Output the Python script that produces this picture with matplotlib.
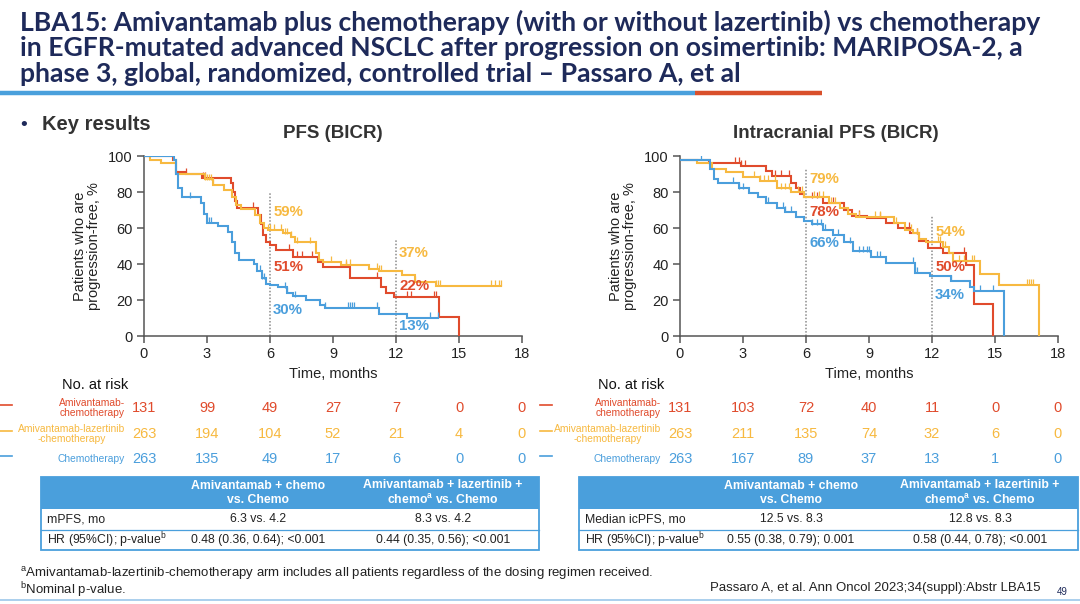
import matplotlib
matplotlib.use("Agg")
import matplotlib.pyplot as plt
import matplotlib.transforms as mtransforms
from matplotlib.patches import Rectangle
from matplotlib import font_manager
import numpy as np

# fonts: Arial-like text, narrowest available bold for the slide title
fonts = font_manager.fontManager.ttflist
names = {f.name for f in fonts}
BASE = "Liberation Sans" if "Liberation Sans" in names else "DejaVu Sans"
plt.rcParams["font.family"] = [BASE, "DejaVu Sans"]

RED = "#e04b2c"
YEL = "#f7b940"
BLU = "#4a9edc"
NAVY = "#1e2a5a"
GREY = "#333333"

# ---- PFS (BICR) Kaplan-Meier steps: time (months) -> % progression-free
pfs_red_t = [0, 1.4, 1.5, 2.0, 2.75, 4.15, 4.25, 4.35, 4.45, 5.45, 5.55, 5.65, 5.8, 6.0, 6.3,
             7.1, 8.3, 8.5, 9.8, 11.3, 11.5, 11.9, 14.05, 15.0]
pfs_red_s = [100, 98, 91, 90, 88, 85, 80, 75, 71, 67, 62, 56, 52, 50.5, 48,
             44, 41, 38.5, 32.5, 27.5, 24, 21.5, 10.5, 0]
pfs_red_cens = [2.0, 2.8, 2.9, 5.2, 6.9, 7.3, 7.5, 8.0, 9.6, 11.1, 12.5, 12.7, 13.8, 13.9]

pfs_yel_t = [0, 0.3, 0.8, 1.5, 2.9, 3.3, 3.8, 4.2, 4.4, 4.6, 5.3, 5.5, 5.7, 5.9, 6.6, 7.0, 7.2,
             8.2, 8.35, 8.5, 9.4, 10.7, 11.2, 12.3, 12.9, 13.9]
pfs_yel_s = [100, 98, 96, 90, 87, 84, 81, 77, 73, 70.5, 67, 63, 60, 59, 57, 55, 52,
             46, 42, 41, 39.5, 37.5, 36, 34, 30, 28]
pfs_yel_end = 17.0
pfs_yel_cens = [2.9, 3.0, 3.1, 3.2, 3.3, 5.9, 6.0, 6.2, 6.5, 6.7, 6.8, 7.0, 7.3, 7.9, 8.9, 9.6,
                9.8, 11.1, 11.2, 11.3, 12.9, 13.9, 14.0, 14.1, 16.5, 16.7, 16.9, 17.0]

pfs_blu_t = [0, 1.45, 1.5, 1.6, 1.8, 2.7, 2.85, 3.0, 3.5, 4.0, 4.2, 4.35, 4.5, 5.25, 5.4, 5.6,
             5.8, 6.0, 6.4, 6.8, 7.1, 7.7, 8.4, 8.6, 11.2, 12.5]
pfs_blu_s = [100, 98, 90, 82, 77, 74, 68, 63, 61, 58, 52, 46, 42, 40, 36, 32,
             29, 28.5, 27, 24, 22, 20, 17, 15.4, 12.5, 10]
pfs_blu_end = 14.0
pfs_blu_cens = [2.2, 3.0, 3.1, 3.2, 5.5, 5.6, 5.7, 6.7, 6.8, 7.2, 8.6, 9.7, 9.8, 9.9, 10.0,
                11.1, 13.6, 14.0]

# ---- Intracranial PFS (BICR)
ic_red_t = [0, 1.4, 2.9, 4.1, 4.4, 5.3, 5.5, 5.7, 5.9, 6.8, 7.8, 8.2, 8.9, 9.8, 10.4, 10.95,
            11.4, 11.8, 12.5, 13.6, 14.0, 14.9]
ic_red_s = [98, 96, 94.5, 91.5, 89, 85, 82, 79, 77, 74, 70, 66.5, 65.5, 63, 60, 57,
            53, 49, 46, 39.5, 18, 0]
ic_red_cens = [2.6, 2.8, 2.9, 3.1, 4.5, 4.8, 5.2, 6.3, 6.5, 7.3, 8.5, 9.5, 10.9, 11.3, 12.4,
               13.5, 13.6]

ic_yel_t = [0, 0.8, 1.5, 2.2, 3.0, 3.8, 4.6, 5.3, 5.9, 7.1, 7.6, 8.0, 8.4, 10.2, 10.7, 11.1,
            11.4, 11.7, 12.5, 12.8, 13.0, 14.3, 15.2, 17.1]
ic_yel_s = [98, 96, 93, 91, 88.5, 86, 82, 80, 77.5, 74, 71, 68, 66, 63, 59, 57,
            54, 52.5, 49.5, 46, 41.5, 34.5, 28.5, 0]
ic_yel_cens = [3.5, 3.8, 4.0, 4.2, 4.5, 4.8, 5.0, 5.2, 5.6, 5.8, 6.4, 6.6, 6.8, 7.2, 7.4, 8.0,
               8.5, 9.3, 9.5, 10.3, 11.0, 11.3, 12.3, 12.4, 12.6, 13.3, 13.5, 13.9, 14.0,
               16.5, 16.6, 16.7, 16.8]

ic_blu_t = [0, 1.45, 1.6, 1.8, 2.8, 3.3, 3.7, 4.1, 4.6, 5.0, 5.5, 5.9, 6.3, 6.8, 7.3, 7.8,
            8.25, 9.1, 9.8, 11.2, 11.9, 12.9, 13.8, 14.0, 15.45]
ic_blu_s = [98, 93, 87, 85, 82, 79.5, 77, 74, 71, 69, 66, 64, 62, 59, 56, 52,
            47, 44, 40.5, 35, 33.5, 30.5, 27, 25, 0]
ic_blu_cens = [1.0, 2.5, 2.8, 3.0, 4.2, 4.9, 5.0, 5.3, 6.3, 6.5, 6.7, 6.9, 7.5, 8.1, 8.5, 8.7,
               8.9, 9.0, 9.4, 9.5, 11.1, 11.2, 11.3, 12.9, 14.3, 14.9]

# landmark labels (month, text, colour) and their heights in %
pfs_marks = [(6, "59%", YEL), (6, "51%", RED), (6, "30%", BLU),
             (12, "37%", YEL), (12, "22%", RED), (12, "13%", BLU)]
pfs_mark_y = [69, 38.5, 14.5, 46, 28, 5.5]
ic_marks = [(6, "79%", YEL), (6, "78%", RED), (6, "66%", BLU),
            (12, "54%", YEL), (12, "50%", RED), (12, "34%", BLU)]
ic_mark_y = [87, 69, 51.5, 57.5, 38.5, 23]

# numbers at risk
risk_months = [0, 3, 6, 9, 12, 15, 18]
pfs_risk_red = [131, 99, 49, 27, 7, 0, 0]
pfs_risk_yel = [263, 194, 104, 52, 21, 4, 0]
pfs_risk_blu = [263, 135, 49, 17, 6, 0, 0]
ic_risk_red = [131, 103, 72, 40, 11, 0, 0]
ic_risk_yel = [263, 211, 135, 74, 32, 6, 0]
ic_risk_blu = [263, 167, 89, 37, 13, 1, 0]
arm_labels = ["Amivantamab-\nchemotherapy", "Amivantamab-lazertinib\n-chemotherapy", "Chemotherapy"]

# summary tables
pfs_tab_rows = ["mPFS, mo", "HR (95%CI); p-value$^{\\mathregular{b}}$"]
pfs_tab_c1 = ["6.3 vs. 4.2", "0.48 (0.36, 0.64); <0.001"]
pfs_tab_c2 = ["8.3 vs. 4.2", "0.44 (0.35, 0.56); <0.001"]
ic_tab_rows = ["Median icPFS, mo", "HR (95%CI); p-value$^{\\mathregular{b}}$"]
ic_tab_c1 = ["12.5 vs. 8.3", "0.55 (0.38, 0.79); 0.001"]
ic_tab_c2 = ["12.8 vs. 8.3", "0.58 (0.44, 0.78); <0.001"]
tab_head = ["Amivantamab + chemo\nvs. Chemo",
            "Amivantamab + lazertinib +\nchemo$^{\\mathregular{a}}$ vs. Chemo"]

title_lines = ["LBA15: Amivantamab plus chemotherapy (with or without lazertinib) vs chemotherapy",
               "in EGFR-mutated advanced NSCLC after progression on osimertinib: MARIPOSA-2, a",
               "phase 3, global, randomized, controlled trial \u2013 Passaro A, et al"]

W, H = 1080, 604
fig = plt.figure(figsize=(W / 100, H / 100), dpi=100)


def fx(x):
    return x / W


def fy(y):
    return 1 - y / H


def km(ax, t, s, color, cens, end=None):
    t = list(t)
    s = list(s)
    if end is not None:
        t.append(end)
        s.append(s[-1])
    ax.step(t, s, where="post", color=color, lw=1.5, solid_joinstyle="miter", zorder=3)
    idx = np.searchsorted(np.array(t), np.array(cens), side="right") - 1
    cy = np.array(s)[idx] + 1.6
    ax.plot(cens, cy, ls="none", marker="|", ms=5, mew=0.9, color=color, zorder=3)


def km_panel(left_px, title, title_x, curves, marks, mark_y, lm_tops):
    ax = fig.add_axes([fx(left_px), fy(336), fx(378), 180 / H])
    for c in curves:
        km(ax, *c)
    for m, top in zip([6, 12], lm_tops):
        ax.plot([m, m], [0, top], ls=(0, (1, 1.2)), color="#8a8a8a", lw=1.1, zorder=2)
    for (m, txt, col), yv in zip(marks, mark_y):
        ax.text(m + 0.15, yv, txt, color=col, fontsize=10.8, fontweight="bold", va="center")
    ax.set_xlim(0, 18)
    ax.set_ylim(0, 100)
    ax.set_xticks(range(0, 19, 3))
    ax.set_yticks(range(0, 101, 20))
    for sp in ["top", "right"]:
        ax.spines[sp].set_visible(False)
    for sp in ["left", "bottom"]:
        ax.spines[sp].set_color("#555555")
        ax.spines[sp].set_linewidth(1.1)
    ax.tick_params(colors="#555555", labelcolor="#222222", labelsize=10.5, length=5, width=1.1, pad=3)
    ax.set_xlabel("Time, months", fontsize=10.5, color="#222222", labelpad=4)
    ax.set_ylabel("Patients who are\nprogression-free, %", fontsize=10.5, color="#222222",
                  labelpad=5, linespacing=1.05)
    fig.text(fx(title_x), fy(133), title, fontsize=13.5, fontweight="bold", color=GREY,
             ha="center", va="center")
    ax.patch.set_alpha(0)
    return ax


ax1 = km_panel(144, "PFS (BICR)", 333,
               [(pfs_red_t, pfs_red_s, RED, pfs_red_cens),
                (pfs_yel_t, pfs_yel_s, YEL, pfs_yel_cens, pfs_yel_end),
                (pfs_blu_t, pfs_blu_s, BLU, pfs_blu_cens, pfs_blu_end)],
               pfs_marks, pfs_mark_y, [80, 54])
ax2 = km_panel(680, "Intracranial PFS (BICR)", 836,
               [(ic_red_t, ic_red_s, RED, ic_red_cens),
                (ic_yel_t, ic_yel_s, YEL, ic_yel_cens),
                (ic_blu_t, ic_blu_s, BLU, ic_blu_cens)],
               ic_marks, ic_mark_y, [93, 67])


def risk_table(ax, x_label_px, x_dash, rows):
    tr = mtransforms.blended_transform_factory(ax.transData, fig.transFigure)
    fig.text(fx(x_label_px - 30), fy(385), "No. at risk", fontsize=10.5, color="#111111",
             ha="center", va="center")
    for (vals, col, lab), ypx in zip(rows, [408, 434, 459]):
        for m, v in zip(risk_months, vals):
            ax.text(m, fy(ypx), str(v), transform=tr, color=col, fontsize=10.5,
                    ha="center", va="center", clip_on=False)
        fig.text(fx(x_label_px), fy(ypx), lab, color=col, fontsize=7.4, ha="right",
                 va="center", linespacing=1.0, multialignment="center")
        fig.add_artist(plt.Line2D([fx(x_dash), fx(x_dash + 12)], [fy(ypx - 3), fy(ypx - 3)],
                                  color=col, lw=1.2))


risk_table(ax1, 125, 0, [(pfs_risk_red, RED, arm_labels[0]),
                         (pfs_risk_yel, YEL, arm_labels[1]),
                         (pfs_risk_blu, BLU, arm_labels[2])])
risk_table(ax2, 661, 540, [(ic_risk_red, RED, arm_labels[0]),
                           (ic_risk_yel, YEL, arm_labels[1]),
                           (ic_risk_blu, BLU, arm_labels[2])])


def summary_table(x0, x1, col_x, rows, c1, c2):
    top, hb, r1, r2 = 477, 509, 530, 550
    fig.add_artist(Rectangle((fx(x0), fy(hb)), fx(x1 - x0), (hb - top) / H,
                             facecolor="#4a9fdc", edgecolor="none"))
    fig.add_artist(Rectangle((fx(x0), fy(r2)), fx(x1 - x0), (r2 - top) / H,
                             facecolor="none", edgecolor="#4a9fdc", lw=1.3))
    fig.add_artist(plt.Line2D([fx(x0), fx(x1)], [fy(r1), fy(r1)], color="#4a9fdc", lw=0.9))
    for cx, txt in zip(col_x, tab_head):
        fig.text(fx(cx), fy((top + hb) / 2), txt, color="white", fontsize=8.8,
                 fontweight="bold", ha="center", va="center", linespacing=1.15)
    for ypx, lab, a, b in zip([(hb + r1) / 2, (r1 + r2) / 2], rows, c1, c2):
        fig.text(fx(x0 + 6), fy(ypx), lab, fontsize=8.8, color="#222222", va="center")
        fig.text(fx(col_x[0]), fy(ypx), a, fontsize=8.8, color="#222222", va="center", ha="center")
        fig.text(fx(col_x[1]), fy(ypx), b, fontsize=8.8, color="#222222", va="center", ha="center")


summary_table(41, 539, [258, 443], pfs_tab_rows, pfs_tab_c1, pfs_tab_c2)
summary_table(579, 1078, [791, 980], ic_tab_rows, ic_tab_c1, ic_tab_c2)

# slide title: try a few installed bold faces, keep the narrowest one, fit to slide width
cands = []
for fam, stretch in [("Liberation Sans Narrow", "normal"), ("DejaVu Sans", "condensed"),
                     ("Roboto", "normal"), ("Lato", "normal"), (BASE, "normal")]:
    ok = any(f.name == fam and (stretch == "normal" or f.stretch == stretch) for f in fonts)
    if ok:
        cands.append((fam, stretch))
fig.canvas.draw()
best = None
for fam, stretch in cands:
    probe = fig.text(0, 0, title_lines[0], fontsize=17, fontweight="bold", family=fam,
                     fontstretch=stretch)
    w = probe.get_window_extent(fig.canvas.get_renderer()).width
    probe.remove()
    if best is None or w < best[2]:
        best = (fam, stretch, w)
title_size = 17 * 1022 / best[2]
for i, line in enumerate(title_lines):
    fig.text(fx(20), fy(22 + 26 * i), line, fontsize=title_size, fontweight="bold", color=NAVY,
             va="center", family=best[0], fontstretch=best[1])

fig.add_artist(plt.Line2D([0, fx(695)], [fy(93), fy(93)], color="#4aa0dc", lw=3.2,
                          solid_capstyle="butt"))
fig.add_artist(plt.Line2D([fx(695), fx(822)], [fy(93), fy(93)], color="#d9502b", lw=3.2,
                          solid_capstyle="butt"))
fig.add_artist(plt.Line2D([0, 1], [fy(600), fy(600)], color="#9cc7ea", lw=1.2))

fig.text(fx(20), fy(125), "\u2022", fontsize=14, color=NAVY, va="center")
fig.text(fx(42), fy(125), "Key results", fontsize=14.5, fontweight="bold", color=GREY, va="center")

fig.text(fx(20), fy(573), "$^{\\mathregular{a}}$Amivantamab-lazertinib-chemotherapy arm includes "
         "all patients regardless of the dosing regimen received.", fontsize=9.5,
         color="#222222", va="center")
fig.text(fx(20), fy(590), "$^{\\mathregular{b}}$Nominal p-value.", fontsize=9.5,
         color="#222222", va="center")
fig.text(fx(1040), fy(588), "Passaro A, et al. Ann Oncol 2023;34(suppl):Abstr LBA15",
         fontsize=9.5, color="#222222", va="center", ha="right")
fig.text(fx(1062), fy(592), "49", fontsize=7, color=NAVY, va="center", ha="center")

fig.savefig("out.png", dpi=100)
